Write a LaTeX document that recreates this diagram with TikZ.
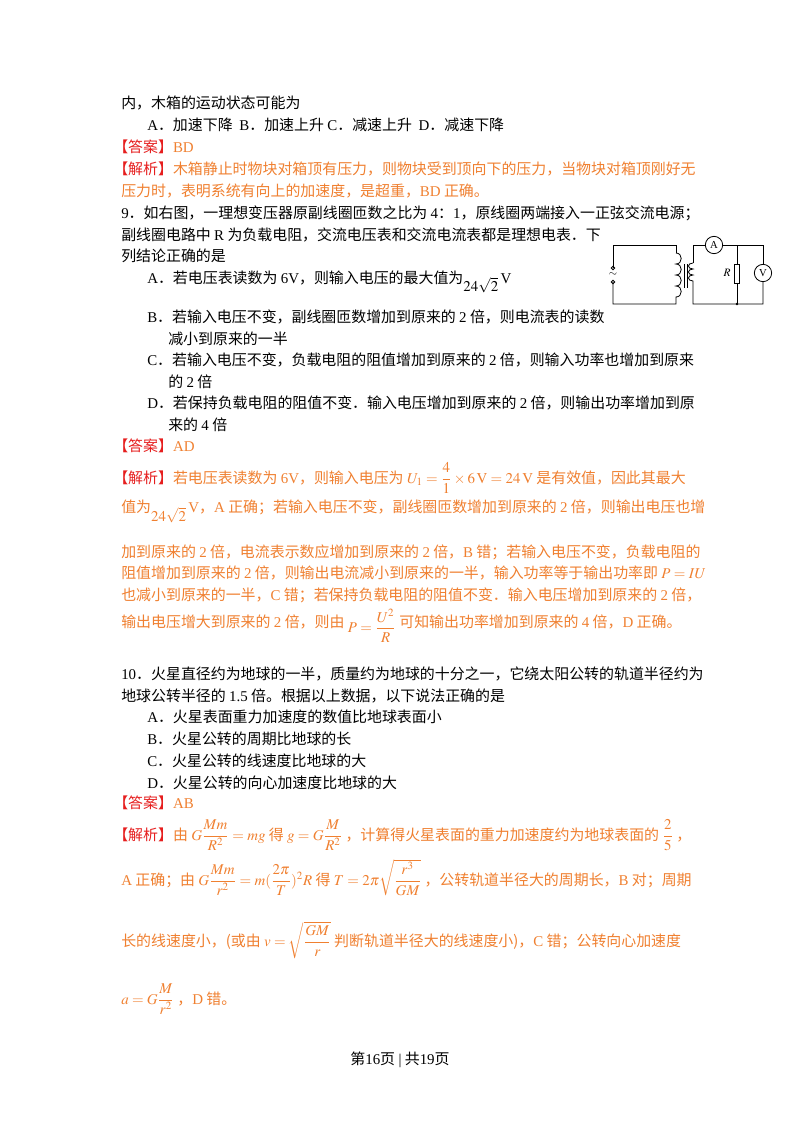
\documentclass[tikz,border=0pt]{standalone}
\usepackage{amsmath}
\usepackage{mathptmx}
\usepackage[no-math]{fontspec}
\setmainfont{Noto Sans CJK SC}
\newfontfamily\tmfam{Liberation Serif}
\newcommand\tm[1]{{\tmfam #1}}
\definecolor{orng}{RGB}{240,128,48}
\definecolor{rd}{RGB}{230,30,30}
\newcommand\jx{\textcolor{rd}{【解析】}}
\newcommand\da{\textcolor{rd}{【答案】}}
\tikzset{ln/.style={anchor=base west,inner sep=0pt,font=\fontsize{11.2}{14}\selectfont},
 or/.style={ln,text=orng},
 wire/.style={line width=0.6pt},
 meter/.style={circle,draw,line width=0.6pt,inner sep=0pt,minimum size=13pt,font=\tmfam\fontsize{8}{8}\selectfont}}
\begin{document}
\begin{tikzpicture}[x=0.75pt,y=-0.75pt]
\useasboundingbox[fill=white] (0,0) rectangle (800,1132);
\node[ln] (l1) at (121,108) {内，木箱的运动状态可能为};
\node[ln] (l2) at (147,130) {\tm{A}．加速下降\ \ \tm{B}．加速上升\ \tm{C}．减速上升\ \ \tm{D}．减速下降};
\node[or] (l3) at (113,152) {\da\tm{BD}};
\node[or] (l4) at (113,174) {\jx 木箱静止时物块对箱顶有压力，则物块受到顶向下的压力，当物块对箱顶刚好无};
\node[or] (l5) at (121,196) {压力时，表明系统有向上的加速度，是超重，\tm{BD} 正确。};
\node[ln] (l6) at (121,218) {\tm{9}．如右图，一理想变压器原副线圈匝数之比为 \tm{4}：\tm{1}，原线圈两端接入一正弦交流电源；};
\node[ln] (l7) at (121,240) {副线圈电路中 \tm{R} 为负载电阻，交流电压表和交流电流表都是理想电表．下};
\node[ln] (l8) at (121,261) {列结论正确的是};
\node[ln] (l9) at (147,283) {\tm{A}．若电压表读数为 \tm{6V}，则输入电压的最大值为\raisebox{-6pt}{$24\sqrt{2}$}\,\tm{V}};
\node[ln] (l10) at (147,322) {\tm{B}．若输入电压不变，副线圈匝数增加到原来的 \tm{2} 倍，则电流表的读数};
\node[ln] (l11) at (168,344) {减小到原来的一半};
\node[ln] (l12) at (147,365) {\tm{C}．若输入电压不变，负载电阻的阻值增加到原来的 \tm{2} 倍，则输入功率也增加到原来};
\node[ln] (l13) at (168,387) {的 \tm{2} 倍};
\node[ln] (l14) at (147,408) {\tm{D}．若保持负载电阻的阻值不变．输入电压增加到原来的 \tm{2} 倍，则输出功率增加到原};
\node[ln] (l15) at (168,430) {来的 \tm{4} 倍};
\node[or] (l16) at (113,451) {\da\tm{AD}};
\node[or] (l17) at (113,483) {\jx 若电压表读数为 \tm{6V}，则输入电压为 $U_1=\dfrac{4}{1}\times 6\,\mathrm{V}=24\,\mathrm{V}$ 是有效值，因此其最大};
\node[or] (l18) at (121,512) {值为\raisebox{-7pt}{$24\sqrt{2}$}\,\tm{V}，\tm{A} 正确；若输入电压不变，副线圈匝数增加到原来的 \tm{2} 倍，则输出电压也增};
\node[or] (l19) at (121,557) {加到原来的 \tm{2} 倍，电流表示数应增加到原来的 \tm{2} 倍，\tm{B} 错；若输入电压不变，负载电阻的};
\node[or] (l20) at (121,578) {阻值增加到原来的 \tm{2} 倍，则输出电流减小到原来的一半，输入功率等于输出功率即 $P=IU$};
\node[or] (l21) at (121,600) {也减小到原来的一半，\tm{C} 错；若保持负载电阻的阻值不变．输入电压增加到原来的 \tm{2} 倍，};
\node[or] (l22) at (121,627) {输出电压增大到原来的 \tm{2} 倍，则由 \raisebox{-4pt}{$P=\dfrac{U^2}{R}$} 可知输出功率增加到原来的 \tm{4} 倍，\tm{D} 正确。};
\node[ln] (l23) at (121,679) {\tm{10}．火星直径约为地球的一半，质量约为地球的十分之一，它绕太阳公转的轨道半径约为};
\node[ln] (l24) at (121,701) {地球公转半径的 \tm{1.5} 倍。根据以上数据，以下说法正确的是};
\node[ln] (l25) at (147,722) {\tm{A}．火星表面重力加速度的数值比地球表面小};
\node[ln] (l26) at (147,744) {\tm{B}．火星公转的周期比地球的长};
\node[ln] (l27) at (147,766) {\tm{C}．火星公转的线速度比地球的大};
\node[ln] (l28) at (147,788) {\tm{D}．火星公转的向心加速度比地球的大};
\node[or] (l29) at (113,808) {\da\tm{AB}};
\node[or] (l30) at (113,840) {\jx 由 $G\dfrac{Mm}{R^2}=mg$ 得 $g=G\dfrac{M}{R^2}$ ，计算得火星表面的重力加速度约为地球表面的 $\dfrac{2}{5}$ ，};
\node[or] (l31) at (121,885) {\tm{A} 正确；由 $G\dfrac{Mm}{r^2}=m(\dfrac{2\pi}{T})^2R$ 得 $T=2\pi\sqrt{\dfrac{r^3}{GM}}$ ，公转轨道半径大的周期长，\tm{B} 对；周期};
\node[or] (l32) at (121,946) {长的线速度小，(或由 $v=\sqrt{\dfrac{GM}{r}}$ 判断轨道半径大的线速度小)，\tm{C} 错；公转向心加速度};
\node[or] (l33) at (121,1004) {$a=G\dfrac{M}{r^2}$ ，\tm{D} 错。};
\node[ln,anchor=base] (ft) at (400,1064) {第\tm{16}页 \tm{|} 共\tm{19}页};
% circuit
\coordinate (t1) at (613,268);
\coordinate (t2) at (613,282);
\draw[wire] (t1) -- (613,245) -- (676,245) -- (676,253);
\draw[wire] (676,253) \foreach \k in {0,1,2,3} { .. controls (683,253+11*\k) and (683,264+11*\k) .. (676,264+11*\k) } -- (676,304) -- (613,304) -- (t2);
\draw[wire] (t1) circle (1.8) (t2) circle (1.8);
\node[font=\fontsize{8}{8}\selectfont] (ac) at (613,275) {$\sim$};
\draw[wire] (684,264) -- (684,288) (687,264) -- (687,288);
\node[meter] (A) at (714,245) {A};
\node[meter] (V) at (763,273) {V};
\node[draw,line width=0.6pt,minimum width=4pt,minimum height=14pt,inner sep=0pt] (R) at (737,274) {};
\node[font=\fontsize{8.5}{8}\selectfont] (Rl) at (727,273) {$R$};
\draw[wire] (693,263) \foreach \k in {0,1,2} { .. controls (687,263+6*\k) and (687,269+6*\k) .. (693,269+6*\k) } -- (693,304) -- (763,304) -- (V.south);
\draw[wire] (693,263) -- (693,245) -- (A.west);
\draw[wire] (A.east) -- (763,245) -- (V.north);
\draw[wire] (737,245) -- (R.north) (R.south) -- (737,304);
\fill (737,304) circle (1.3);
\end{tikzpicture}
\end{document}
